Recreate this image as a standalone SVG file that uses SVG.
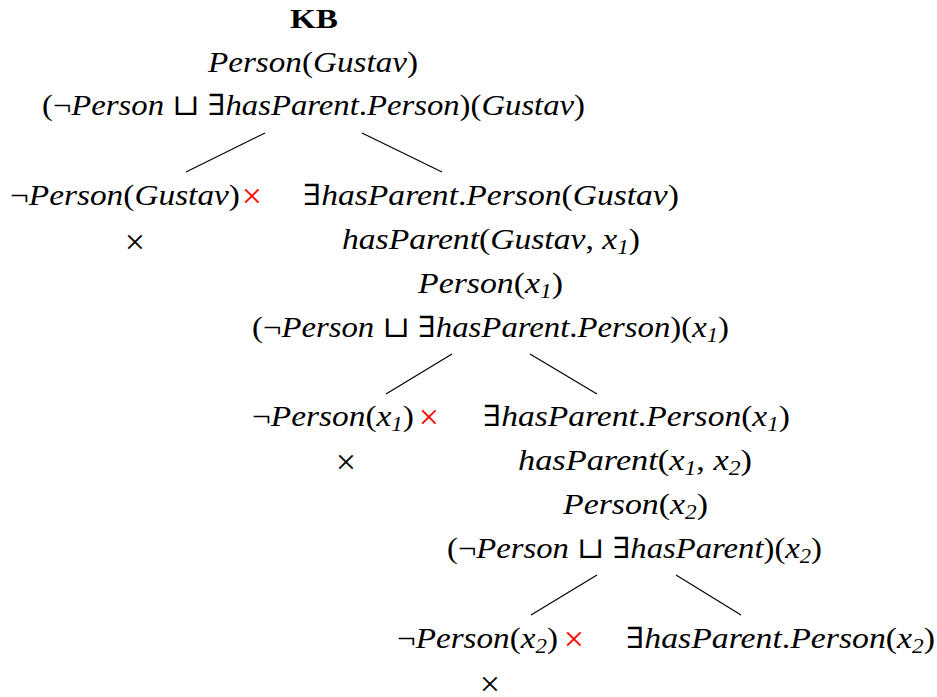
<svg xmlns="http://www.w3.org/2000/svg" width="937" height="697" viewBox="0 0 937 697">
<style>
.m{font-family:"Liberation Serif","DejaVu Serif",serif;font-size:29px;font-style:italic;fill:#000}
.u{font-style:normal}
.b{font-family:"Liberation Serif","DejaVu Serif",serif;font-size:27px;font-weight:bold;fill:#000}
.x{font-family:"Liberation Serif","DejaVu Serif",serif;font-size:36px;font-style:normal;text-anchor:middle}
.red{fill:#ff0000}
.s{font-size:20px}
.e{stroke:#000;stroke-width:1.2;fill:none}
</style>
<g id="connectors">
<line class="e" x1="265" y1="133" x2="186" y2="172"/>
<line class="e" x1="362" y1="133" x2="442" y2="172"/>
<line class="e" x1="452" y1="354" x2="386" y2="394"/>
<line class="e" x1="530" y1="354" x2="597" y2="394"/>
<line class="e" x1="597" y1="575" x2="531" y2="615"/>
<line class="e" x1="676" y1="575" x2="741" y2="615"/>
</g>
<g id="root">
<text class="b" x="290" y="28" textLength="48" lengthAdjust="spacingAndGlyphs">KB</text>
<text class="m" x="208" y="72" textLength="210" lengthAdjust="spacingAndGlyphs">Person<tspan class="u">(</tspan>Gustav<tspan class="u">)</tspan></text>
<text class="m" x="42" y="115" textLength="543" lengthAdjust="spacingAndGlyphs"><tspan class="u">(¬</tspan>Person <tspan class="u">⊔ ∃</tspan>hasParent<tspan class="u">.</tspan>Person<tspan class="u">)(</tspan>Gustav<tspan class="u">)</tspan></text>
</g>
<g id="n-notperson-gustav">
<text class="m" x="10" y="205" textLength="230" lengthAdjust="spacingAndGlyphs"><tspan class="u">¬</tspan>Person<tspan class="u">(</tspan>Gustav<tspan class="u">)</tspan></text>
<text class="x red" x="252" y="208">×</text>
<text class="x" x="135" y="254">×</text>
</g>
<g id="n-exists-gustav">
<text class="m" x="303" y="205" textLength="376" lengthAdjust="spacingAndGlyphs"><tspan class="u">∃</tspan>hasParent<tspan class="u">.</tspan>Person<tspan class="u">(</tspan>Gustav<tspan class="u">)</tspan></text>
<text class="m" x="342" y="249" textLength="298" lengthAdjust="spacingAndGlyphs">hasParent<tspan class="u">(</tspan>Gustav<tspan class="u">, </tspan>x<tspan class="s" dy="5">1</tspan><tspan class="u" dy="-5">)</tspan></text>
<text class="m" x="418" y="293" textLength="145" lengthAdjust="spacingAndGlyphs">Person<tspan class="u">(</tspan>x<tspan class="s" dy="5">1</tspan><tspan class="u" dy="-5">)</tspan></text>
<text class="m" x="252" y="337" textLength="477" lengthAdjust="spacingAndGlyphs"><tspan class="u">(¬</tspan>Person <tspan class="u">⊔ ∃</tspan>hasParent<tspan class="u">.</tspan>Person<tspan class="u">)(</tspan>x<tspan class="s" dy="5">1</tspan><tspan class="u" dy="-5">)</tspan></text>
</g>
<g id="n-notperson-x1">
<text class="m" x="252" y="426" textLength="162" lengthAdjust="spacingAndGlyphs"><tspan class="u">¬</tspan>Person<tspan class="u">(</tspan>x<tspan class="s" dy="5">1</tspan><tspan class="u" dy="-5">)</tspan></text>
<text class="x red" x="429" y="429">×</text>
<text class="x" x="346" y="474">×</text>
</g>
<g id="n-exists-x1">
<text class="m" x="483" y="426" textLength="307" lengthAdjust="spacingAndGlyphs"><tspan class="u">∃</tspan>hasParent<tspan class="u">.</tspan>Person<tspan class="u">(</tspan>x<tspan class="s" dy="5">1</tspan><tspan class="u" dy="-5">)</tspan></text>
<text class="m" x="518" y="470" textLength="234" lengthAdjust="spacingAndGlyphs">hasParent<tspan class="u">(</tspan>x<tspan class="s" dy="5">1</tspan><tspan class="u" dy="-5">, </tspan>x<tspan class="s" dy="5">2</tspan><tspan class="u" dy="-5">)</tspan></text>
<text class="m" x="563" y="514" textLength="145" lengthAdjust="spacingAndGlyphs">Person<tspan class="u">(</tspan>x<tspan class="s" dy="5">2</tspan><tspan class="u" dy="-5">)</tspan></text>
<text class="m" x="447" y="558" textLength="375" lengthAdjust="spacingAndGlyphs"><tspan class="u">(¬</tspan>Person <tspan class="u">⊔ ∃</tspan>hasParent<tspan class="u">)(</tspan>x<tspan class="s" dy="5">2</tspan><tspan class="u" dy="-5">)</tspan></text>
</g>
<g id="n-notperson-x2">
<text class="m" x="397" y="648" textLength="161" lengthAdjust="spacingAndGlyphs"><tspan class="u">¬</tspan>Person<tspan class="u">(</tspan>x<tspan class="s" dy="5">2</tspan><tspan class="u" dy="-5">)</tspan></text>
<text class="x red" x="574" y="651">×</text>
<text class="x" x="490" y="696">×</text>
</g>
<g id="n-exists-x2">
<text class="m" x="626" y="648" textLength="309" lengthAdjust="spacingAndGlyphs"><tspan class="u">∃</tspan>hasParent<tspan class="u">.</tspan>Person<tspan class="u">(</tspan>x<tspan class="s" dy="5">2</tspan><tspan class="u" dy="-5">)</tspan></text>
</g>
</svg>
